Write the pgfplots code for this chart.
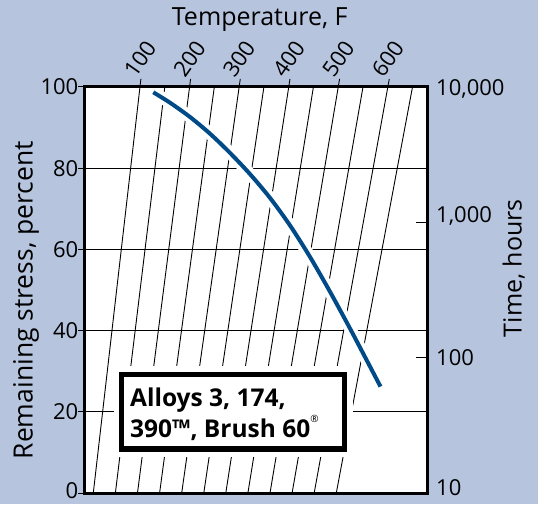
\documentclass[border=0pt]{standalone}
\usepackage{pgfplots}
\pgfplotsset{compat=1.18}
\usetikzlibrary{backgrounds,calc}
\usepackage{fontspec}
\setmainfont{Open Sans}
\definecolor{bgblue}{RGB}{182,196,222}
\definecolor{curveblue}{RGB}{0,75,135}
\newcommand{\tickfont}{\fontsize{22}{22}\selectfont}
\newcommand{\labfont}{\fontsize{25}{27}\selectfont}
\newcommand{\ylabfont}{\fontsize{26.5}{28}\selectfont}
\newcommand{\boxfont}{\fontsize{24.5}{27}\selectfont\bfseries}
\begin{document}
\begin{tikzpicture}[x=1pt,y=1pt]
\begin{axis}[
  width=342.5pt, height=406pt, scale only axis,
  xmin=0, xmax=342.5, ymin=0, ymax=100,
  axis background/.style={fill=white},
  axis line style={line width=3pt},
  axis on top, clip=false,
  tick align=outside, major tick length=6pt,
  tick style={black, line width=1pt},
  ytick={0,20,40,60,80,100}, yticklabels={\raisebox{2pt}[\height][\depth]{0},20,40,60,80,100},
  ytick pos=left,
  yticklabel style={font=\tickfont, inner sep=0pt},
  extra y ticks={0,33.333,66.667,100},
  extra y tick labels={\raisebox{5pt}[\height][\depth]{10},100,\raisebox{6pt}[\height][\depth]{1,000},\raisebox{-2pt}[\height][\depth]{10,000}},
  extra y tick style={ytick pos=right, yticklabel pos=right, tick align=inside,
    major tick length=11pt,
    yticklabel style={font=\tickfont, inner sep=0pt, anchor=west, xshift=9pt}},
  xtick={55.5,105.1,154.6,204.2,253.7,303.3},
  xticklabels={100,200,300,400,500,600},
  xtick pos=right, xticklabel pos=right,
  xtick style={draw=none},
  xticklabel style={font=\tickfont, inner sep=0pt, anchor=center, yshift=22pt, rotate=55},
]
\coordinate (sw) at (rel axis cs:0,0);
% horizontal grid lines
\addplot[black, line width=0.9pt] coordinates {(0,20) (342.5,20)};
\addplot[black, line width=0.9pt] coordinates {(0,40) (342.5,40)};
\addplot[black, line width=0.9pt] coordinates {(0,60) (342.5,60)};
\addplot[black, line width=0.9pt] coordinates {(0,80) (342.5,80)};
% slanted temperature lines (100 F to 650 F, every 50 F)
\addplot[black, line width=0.9pt] coordinates {(56.4,102) (8.8,0)};
\addplot[black, line width=0.9pt] coordinates {(80.3,100) (30.9,0)};
\addplot[black, line width=0.9pt] coordinates {(106.1,102) (53.0,0)};
\addplot[black, line width=0.9pt] coordinates {(129.8,100) (75.1,0)};
\addplot[black, line width=0.9pt] coordinates {(155.8,102) (97.2,0)};
\addplot[black, line width=0.9pt] coordinates {(179.4,100) (119.3,0)};
\addplot[black, line width=0.9pt] coordinates {(205.5,102) (141.3,0)};
\addplot[black, line width=0.9pt] coordinates {(228.9,100) (163.4,0)};
\addplot[black, line width=0.9pt] coordinates {(255.1,102) (185.5,0)};
\addplot[black, line width=0.9pt] coordinates {(278.5,100) (207.6,0)};
\addplot[black, line width=0.9pt] coordinates {(304.8,102) (229.7,0)};
\addplot[black, line width=0.9pt] coordinates {(328.0,100) (251.8,0)};
% stress relaxation curve
\addplot[white, line width=12pt, smooth, line cap=round] coordinates {
 (68.8,98.69) (85.5,96.13) (105.5,92.61) (125.5,88.50) (145.5,83.77)
 (165.5,78.55) (185.5,72.69) (205.5,65.91) (225.5,58.15) (245.5,49.58)
 (265.5,40.52) (280.5,33.50) (296.0,26.21)};
\addplot[curveblue, line width=4pt, smooth] coordinates {
 (68.8,98.69) (85.5,96.13) (105.5,92.61) (125.5,88.50) (145.5,83.77)
 (165.5,78.55) (185.5,72.69) (205.5,65.91) (225.5,58.15) (245.5,49.58)
 (265.5,40.52) (280.5,33.50) (296.0,26.21)};
% label box
\draw[preaction={draw=white, line width=16pt}, fill=white, draw=black, line width=5.5pt]
  (axis cs:37.25,10.84) rectangle (axis cs:260,29.19);
\node[anchor=base west, font=\boxfont, inner sep=0pt] at (axis cs:45.5,21.26) {Alloys 3, 174,};
\node[anchor=base west, font=\boxfont, inner sep=0pt] at (axis cs:45.5,13.62)
  {390™, Brush 60\raisebox{1.1ex}{\fontsize{10}{10}\selectfont\mdseries ®}};
% axis titles
\node[font=\labfont, anchor=base, inner sep=0pt, xshift=4pt, yshift=61pt] at (rel axis cs:0.5,1) {Temperature, F};
\node[font=\ylabfont, inner sep=0pt, xshift=-51.8pt, rotate=90, anchor=base] at (rel axis cs:0,0.475) {Remaining stress, percent};
\node[font=\labfont, inner sep=0pt, xshift=94.7pt, rotate=90, anchor=base] at (rel axis cs:1,0.554) {Time, hours};
\end{axis}
\begin{scope}[on background layer]
\fill[bgblue] ($(sw)+(-84.5,-11)$) rectangle ++(538,504);
\end{scope}
\pgfresetboundingbox
\path[use as bounding box] ($(sw)+(-84.5,-11)$) rectangle ++(538,504);
\end{tikzpicture}
\end{document}
